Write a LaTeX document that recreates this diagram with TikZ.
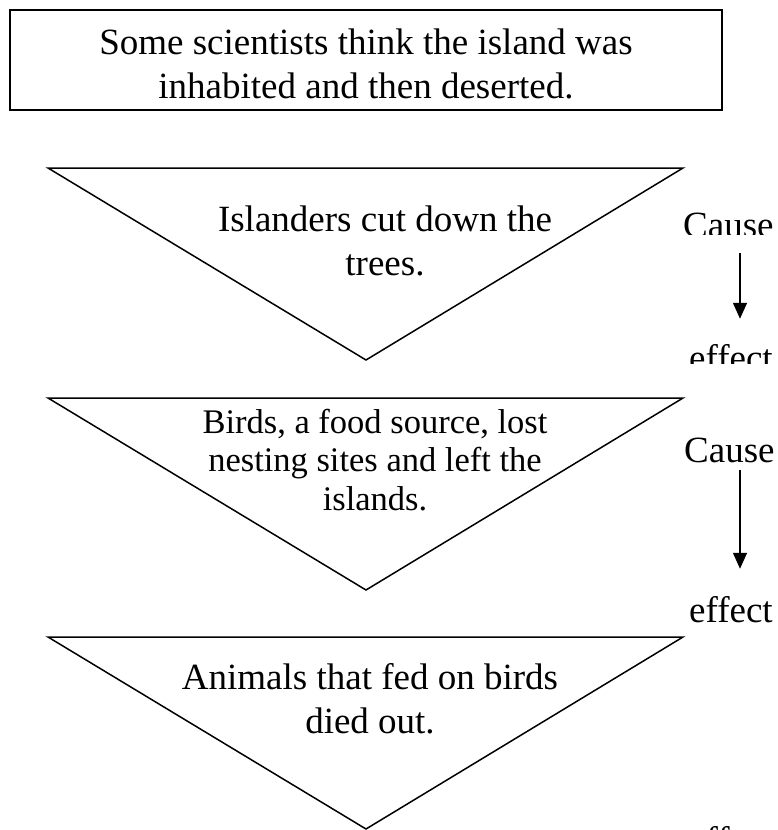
\documentclass[tikz,border=0pt]{standalone}
\usepackage{fontspec}
\setmainfont{Liberation Serif}
\usetikzlibrary{arrows.meta}
\newcommand{\funnel}[1]{
\draw[line width=1.5] (48,#1)--(683,#1)--(366,#1+192)--cycle;}
\tikzset{
  txt/.style={inner sep=0, align=center, font=\fontsize{37}{44}\selectfont},
  side/.style={inner sep=0, anchor=base west, font=\fontsize{37}{44}\selectfont},
  flow/.style={line width=1.5, -{Triangle[length=16,width=14]}}
}

\begin{document}
\begin{tikzpicture}[x=1pt,y=-1pt]
\clip (0,0) rectangle (777,830);
\draw[line width=2] (10,10) rectangle (722,110);
\node[txt, anchor=base] (claim) at (366,98) {Some scientists think the island was\\inhabited and then deserted.};

\funnel{168}
\funnel{398}
\funnel{637}

\node[txt, anchor=base] (trees) at (385,275) {Islanders cut down the\\trees.};
\node[txt, anchor=base, font=\fontsize{34.5}{38.5}\selectfont] (birds) at (375,510) {Birds, a food source, lost\\nesting sites and left the\\islands.};
\node[txt, anchor=base] (animals) at (370,733) {Animals that fed on birds\\died out.};

% labels on the right, partly cut off
\begin{scope}
\clip (660,190) rectangle (777,234);
\node[side] (cause1) at (683,237) {Cause};
\end{scope}
\begin{scope}
\clip (660,330) rectangle (771,363);
\node[side] (effect1) at (689,370) {effect};
\end{scope}
\node[side] (cause2) at (684,462) {Cause};
\node[side] (effect2) at (689,622) {effect};
\node[side] (effect3) at (689,852) {effect};

\draw[flow, shorten <=16, shorten >=25] (cause1.base -| 740,0) -- (effect1.north -| 740,0);
\draw[flow, shorten <=8, shorten >=27] (cause2.base -| 740,0) -- (effect2.north -| 740,0);

\end{tikzpicture}
\end{document}
